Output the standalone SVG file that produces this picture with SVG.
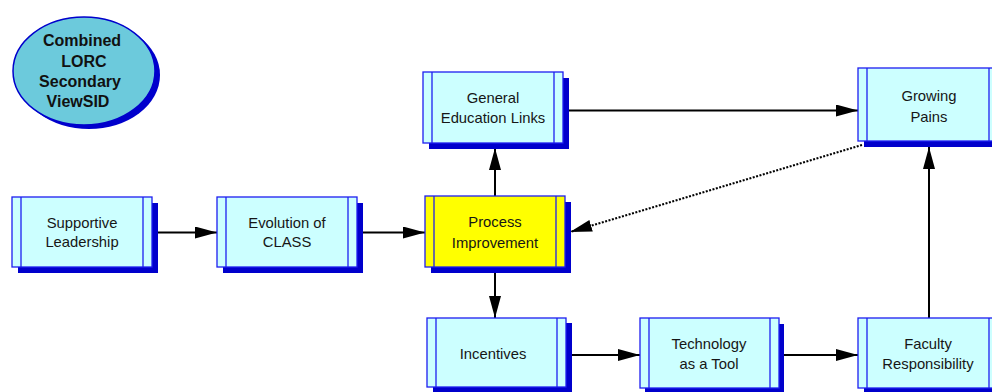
<svg xmlns="http://www.w3.org/2000/svg" width="992" height="392" viewBox="0 0 992 392">
  <style>
    .shadow { fill: #0000CC; }
    .box { fill: #CCFFFF; stroke: #1E1EF0; stroke-width: 1.3; }
    .box.hot { fill: #FFFF00; }
    .strip { stroke: #1E1EF0; stroke-width: 1.3; }
    .label { font-family: "Liberation Sans", Arial, sans-serif; font-size: 14.8px; fill: #161616; text-anchor: middle; }
    .title { font-family: "Liberation Sans", Arial, sans-serif; font-size: 16px; font-weight: bold; fill: #111; text-anchor: middle; }
    .link { stroke: #000; stroke-width: 2; fill: none; }
    .link.dotted { stroke-dasharray: 2 1.5; }
  </style>
  <defs>
    <marker id="arrow" markerUnits="userSpaceOnUse" markerWidth="23" markerHeight="13" refX="22" refY="6" orient="auto">
      <path d="M0,0 L22,6 L0,12 Z" fill="#000"/>
    </marker>
  </defs>

  <rect width="992" height="392" fill="#FFFFFF"/>

  <!-- title badge -->
  <g id="title">
    <ellipse cx="89" cy="75" rx="71" ry="54" class="shadow"/>
    <ellipse cx="84" cy="71" rx="71" ry="54" fill="#6CCADC" stroke="#0000CC" stroke-width="1.5"/>
    <text class="title" x="82" y="46">Combined</text>
    <text class="title" x="84" y="66.5">LORC</text>
    <text class="title" x="80" y="86.5">Secondary</text>
    <text class="title" x="78" y="107">ViewSID</text>
  </g>

  <!-- connectors -->
  <g id="connectors">
    <line class="link" x1="157" y1="232.5" x2="217" y2="232.5" marker-end="url(#arrow)"/>
    <line class="link" x1="362" y1="232.5" x2="425" y2="232.5" marker-end="url(#arrow)"/>
    <line class="link" x1="495" y1="196" x2="495" y2="148" marker-end="url(#arrow)"/>
    <line class="link" x1="495" y1="273" x2="495" y2="318" marker-end="url(#arrow)"/>
    <line class="link" x1="568" y1="110.5" x2="858" y2="110.5" marker-end="url(#arrow)"/>
    <line class="link" x1="572" y1="355" x2="640" y2="355" marker-end="url(#arrow)"/>
    <line class="link" x1="784" y1="355" x2="858" y2="355" marker-end="url(#arrow)"/>
    <line class="link" x1="929" y1="318" x2="929" y2="147" marker-end="url(#arrow)"/>
    <line class="link dotted" x1="862" y1="145" x2="570" y2="232" marker-end="url(#arrow)"/>
  </g>

  <!-- nodes -->
  <g id="supportive-leadership">
    <rect x="18" y="203" width="140" height="70" class="shadow"/>
    <rect x="12" y="197" width="140" height="70" class="box"/>
    <line x1="21" y1="197" x2="21" y2="267" class="strip"/>
    <line x1="143" y1="197" x2="143" y2="267" class="strip"/>
    <text class="label" x="82" y="227.5">Supportive</text>
    <text class="label" x="82" y="247">Leadership</text>
  </g>

  <g id="evolution-of-class">
    <rect x="223" y="203" width="140" height="70" class="shadow"/>
    <rect x="217" y="197" width="140" height="70" class="box"/>
    <line x1="226" y1="197" x2="226" y2="267" class="strip"/>
    <line x1="348" y1="197" x2="348" y2="267" class="strip"/>
    <text class="label" x="287" y="227.5">Evolution of</text>
    <text class="label" x="287" y="247">CLASS</text>
  </g>

  <g id="process-improvement">
    <rect x="431" y="202" width="140" height="71" class="shadow"/>
    <rect x="425" y="196" width="140" height="71" class="box hot"/>
    <line x1="434" y1="196" x2="434" y2="267" class="strip"/>
    <line x1="556" y1="196" x2="556" y2="267" class="strip"/>
    <text class="label" x="495" y="227">Process</text>
    <text class="label" x="495" y="247.5">Improvement</text>
  </g>

  <g id="general-education-links">
    <rect x="429" y="78" width="140" height="71" class="shadow"/>
    <rect x="423" y="72" width="140" height="71" class="box"/>
    <line x1="432" y1="72" x2="432" y2="143" class="strip"/>
    <line x1="554" y1="72" x2="554" y2="143" class="strip"/>
    <text class="label" x="493" y="103">General</text>
    <text class="label" x="493" y="123">Education Links</text>
  </g>

  <g id="growing-pains">
    <rect x="864" y="74" width="140" height="73" class="shadow"/>
    <rect x="858" y="68" width="140" height="73" class="box"/>
    <line x1="867" y1="68" x2="867" y2="141" class="strip"/>
    <line x1="989" y1="68" x2="989" y2="141" class="strip"/>
    <text class="label" x="929" y="100.5">Growing</text>
    <text class="label" x="929" y="121.5">Pains</text>
  </g>

  <g id="incentives">
    <rect x="433" y="323" width="139" height="69" class="shadow"/>
    <rect x="427" y="318" width="139" height="69" class="box"/>
    <line x1="436" y1="318" x2="436" y2="387" class="strip"/>
    <line x1="557" y1="318" x2="557" y2="387" class="strip"/>
    <text class="label" x="493" y="358.5">Incentives</text>
  </g>

  <g id="technology-as-a-tool">
    <rect x="645" y="324" width="139" height="70" class="shadow"/>
    <rect x="640" y="318" width="139" height="70" class="box"/>
    <line x1="649" y1="318" x2="649" y2="388" class="strip"/>
    <line x1="770" y1="318" x2="770" y2="388" class="strip"/>
    <text class="label" x="709" y="348.5">Technology</text>
    <text class="label" x="709" y="368.5">as a Tool</text>
  </g>

  <g id="faculty-responsibility">
    <rect x="864" y="323" width="140" height="70" class="shadow"/>
    <rect x="858" y="318" width="140" height="70" class="box"/>
    <line x1="867" y1="318" x2="867" y2="388" class="strip"/>
    <line x1="989" y1="318" x2="989" y2="388" class="strip"/>
    <text class="label" x="928" y="348.5">Faculty</text>
    <text class="label" x="928" y="369">Responsibility</text>
  </g>
</svg>
